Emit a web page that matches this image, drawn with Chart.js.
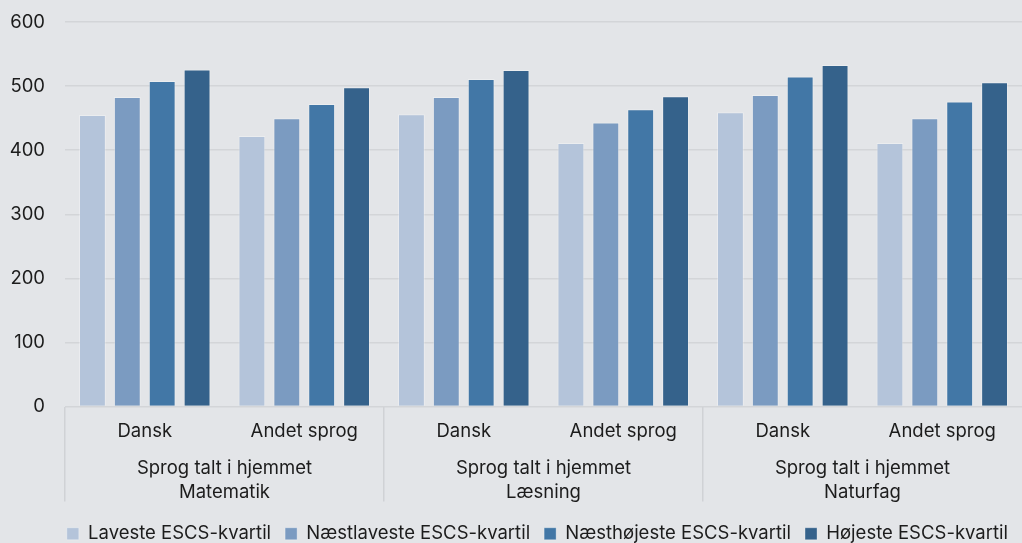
<!DOCTYPE html>
<html>
<head>
<meta charset="utf-8">
<script src="https://cdn.jsdelivr.net/npm/chart.js@4"></script>
<style>
  html, body { margin: 0; padding: 0; background: #e3e5e8; }
  #wrap { width: 1022px; height: 543px; }
</style>
</head>
<body>
<div id="wrap"><canvas id="myChart"></canvas></div>
<script>
// kategorier
const sprog = ['Dansk', 'Andet sprog', 'Dansk', 'Andet sprog', 'Dansk', 'Andet sprog'];
const fag = [
  ['Sprog talt i hjemmet', 'Matematik'],
  ['Sprog talt i hjemmet', 'Læsning'],
  ['Sprog talt i hjemmet', 'Naturfag']
];
const serieNavne = ['Laveste ESCS-kvartil', 'Næstlaveste ESCS-kvartil', 'Næsthøjeste ESCS-kvartil', 'Højeste ESCS-kvartil'];

// værdier (aflæst)
const laveste     = [455, 422, 456, 411, 459, 411];
const naestlaveste = [483, 450, 483, 443, 486, 450];
const naesthoejeste = [508, 472, 511, 464, 515, 476];
const hoejeste    = [526, 498, 525, 484, 533, 506];

const farver = ['#b4c4da', '#7b9bc1', '#4277a6', '#35628b'];

Chart.defaults.font.family = 'Inter, "Noto Sans", sans-serif';
Chart.defaults.font.size = 18.5;
Chart.defaults.color = '#1c1c1c';

function barChart() {
  const ctx = document.getElementById('myChart');
  const data = [laveste, naestlaveste, naesthoejeste, hoejeste];
  new Chart(ctx, {
    type: 'bar',
    data: {
      labels: sprog,
      datasets: data.map((d, i) => ({
        label: serieNavne[i],
        data: d,
        backgroundColor: farver[i],
        borderColor: 'rgba(255,255,255,0.3)',
        borderWidth: 1,
        categoryPercentage: 0.875,
        barPercentage: 0.77
      }))
    },
    options: {
      responsive: true,
      maintainAspectRatio: false,
      animation: false,
      layout: { padding: { top: 22, right: 0, left: 0, bottom: -10 } },
      scales: {
        y: {
          min: 0,
          max: 600,
          ticks: { stepSize: 100, padding: 0 },
          border: { display: false },
          grid: { color: '#d3d5d8', lineWidth: 1.5, drawTicks: true, tickLength: 20, tickColor: 'rgba(0,0,0,0)' },
          afterFit: s => { s.width = 65; }
        },
        x: {
          weight: 0,
          border: { display: false },
          grid: {
            offset: true,
            drawOnChartArea: false,
            tickLength: 95,
            lineWidth: 1.5,
            color: c => (c.index % 2 === 0 ? '#d0d2d5' : 'rgba(0,0,0,0)')
          },
          ticks: { padding: -81, maxRotation: 0, autoSkip: false },
          afterFit: s => { s.height = 40; }
        },
        x2: {
          type: 'category',
          labels: fag,
          position: 'bottom',
          weight: 1,
          offset: true,
          border: { display: false },
          grid: { display: false },
          ticks: { padding: 2, maxRotation: 0, autoSkip: false, font: { lineHeight: 1.3 } },
          afterFit: s => { s.height = 64; }
        }
      },
      plugins: {
        legend: {
          position: 'bottom',
          align: 'end',
          labels: { boxWidth: 12, boxHeight: 12, padding: 14 }
        },
        tooltip: { enabled: false }
      }
    }
  });
}

barChart();
</script>
</body>
</html>
